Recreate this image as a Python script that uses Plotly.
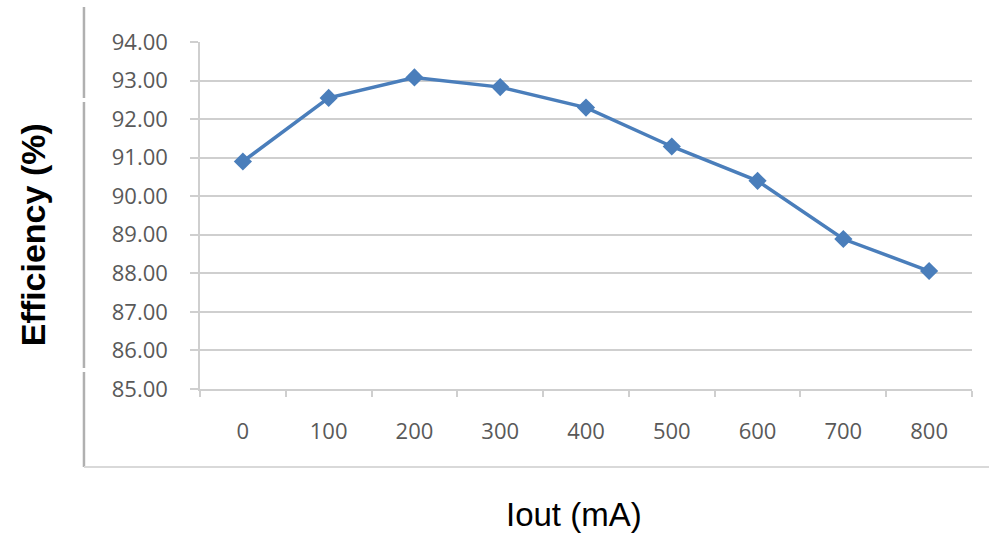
import plotly.graph_objects as go

# 输出电流 (mA) 与效率 (%)
iout_ma = ["0", "100", "200", "300", "400", "500", "600", "700", "800"]
efficiency = [90.90, 92.55, 93.08, 92.83, 92.30, 91.29, 90.40, 88.89, 88.06]
y_ticks = [85, 86, 87, 88, 89, 90, 91, 92, 93, 94]
y_tick_text = [f"{v:.2f}" for v in y_ticks]

grid_col = "#cfcfcf"
tick_font = dict(family="Open Sans, Liberation Sans, Arial", size=22, color="#595959")

fig = go.Figure()
fig.add_trace(go.Scatter(
    x=iout_ma,
    y=efficiency,
    mode="lines+markers",
    line=dict(color="#4a7ebb", width=3.5),
    marker=dict(symbol="diamond", size=14, color="#4a7ebb"),
    showlegend=False,
))

# 外框线（左侧竖线分三段 + 底部横线）
frame = []
for y0, y1 in [(-0.2248, 0.0490), (0.0605, 0.8271), (0.8386, 1.1009)]:
    frame.append(dict(type="line", xref="paper", yref="paper",
                      x0=-0.1503, x1=-0.1503, y0=y0, y1=y1,
                      line=dict(color="#b0b0b0", width=2.5)))
frame.append(dict(type="line", xref="paper", yref="paper",
                  x0=-0.1503, x1=1.03, y0=-0.2248, y1=-0.2248,
                  line=dict(color="#d9d9d9", width=2)))

fig.update_layout(
    width=989, height=535,
    margin=dict(l=200, r=17, t=42, b=146, autoexpand=False),
    paper_bgcolor="white",
    plot_bgcolor="white",
    shapes=frame,
    xaxis=dict(
        type="category",
        range=[-0.5, len(iout_ma) - 0.5],
        tickson="boundaries",
        ticks="outside", ticklen=6, tickcolor=grid_col, tickwidth=1.5,
        showgrid=False,
        showline=True, linecolor=grid_col, linewidth=1.5,
        tickfont=tick_font,
        ticklabelstandoff=22,
        automargin=False,
        fixedrange=True,
    ),
    yaxis=dict(
        range=[85, 94],
        tickvals=y_ticks,
        ticktext=y_tick_text,
        ticks="outside", ticklen=8, tickcolor=grid_col, tickwidth=1.5,
        showgrid=True, gridcolor=grid_col, gridwidth=1.5,
        showline=True, linecolor=grid_col, linewidth=1.5,
        zeroline=False,
        tickfont=tick_font,
        ticklabelstandoff=18,
        automargin=False,
    ),
    annotations=[
        dict(text="<b>Efficiency (%)</b>", xref="paper", yref="paper",
             x=-0.216, y=0.444, textangle=-90, showarrow=False,
             xanchor="center", yanchor="middle",
             font=dict(family="Liberation Sans, Arial", size=34, color="black")),
        dict(text="Iout (mA)", xref="paper", yref="paper",
             x=0.4845, y=-0.363, showarrow=False,
             xanchor="center", yanchor="middle",
             font=dict(family="Liberation Sans, Arial", size=33, color="black")),
    ],
)

# 去掉页面默认的 8px 边距
fig.write_html("out.html", config={"displayModeBar": False},
               post_script="document.body.style.margin='0';")
